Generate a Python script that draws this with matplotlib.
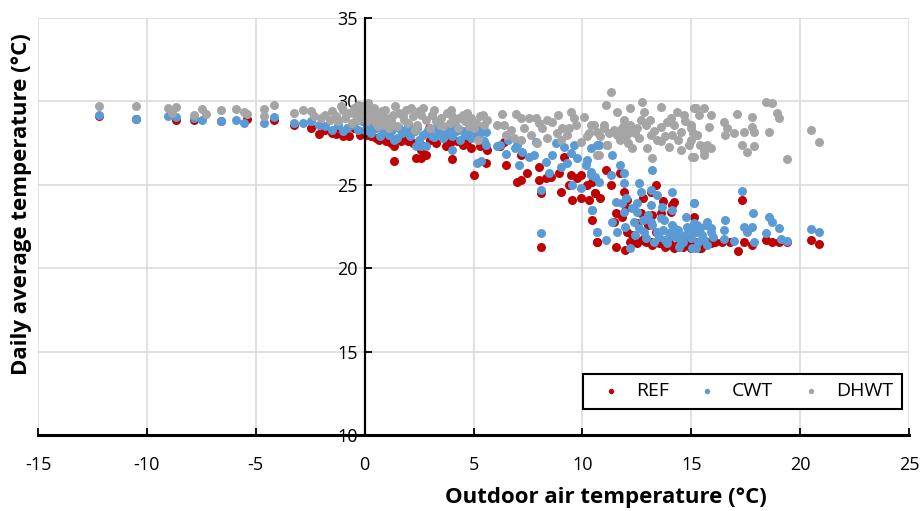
import matplotlib
matplotlib.use("Agg")
import matplotlib.pyplot as plt

# ---------------- data ----------------
ref_x = [-12.2, -10.5, -8.65, -7.84, -6.61, -5.39, -4.16, -3.26, -2.48, -2.11, -1.33, -0.73,
         -1.8, -1.5, -1.2, -1.0, -0.5, -0.2, 0.05, 0.3, 0.66, 0.8, 1.2, 1.35, 1.65, 1.35, 2.0,
         2.34, 2.57, 2.8, 2.57, 2.6, 2.94, 3.3, 3.64, 3.72, 4.03, 4.25, 4.5, 4.87, 5.02, 5.3, 5.56,
         0.5, 1.0, 1.8, 2.2, 3.0, 3.9, 4.7, 5.6, 6.2, 7.2,
         6.47, 6.4, 7.01, 7.16, 7.47, 8.0, 8.0, 8.31, 8.54, 9.0, 8.92, 9.15, 9.46, 9.38, 9.54,
         9.77, 9.92, 10.23, 10.3, 10.45, 10.6, 10.68, 8.08, 8.08, 9.92,
         10.45, 10.6, 10.83, 11.07, 11.3, 11.53, 11.75, 11.91, 12.06, 11.45, 11.83, 12.06, 12.21,
         10.68, 11.53, 11.98, 13.13, 13.36, 12.67, 13.21, 13.59, 14.2, 14.05, 12.75, 13.13, 13.59,
         14.05, 14.36, 14.66, 14.97, 15.28, 12.52,
         12.5, 12.9, 13.2, 13.5, 13.8, 14.0, 14.2, 14.4, 14.6, 14.8, 15.0, 15.2, 15.4, 15.6, 15.9,
         16.1, 13.0, 12.3, 13.4, 12.0, 12.8, 13.7, 14.1,
         17.34, 15.12, 15.28, 15.74, 15.43, 16.42, 16.8, 17.14, 17.42, 17.8, 18.41, 18.72, 19.02,
         19.41, 20.48, 20.86]
ref_y = [29.1, 28.95, 28.9, 28.9, 28.8, 28.95, 28.9, 28.6, 28.4, 28.05, 28.05, 27.95,
         28.3, 28.1, 28.3, 27.9, 28.4, 28.0, 28.0, 27.9, 27.7, 27.8, 27.5, 27.33, 27.6, 26.4, 27.6,
         26.6, 26.6, 26.8, 27.1, 27.4, 28.4, 27.5, 27.8, 27.3, 26.55, 27.6, 27.4, 27.2, 25.6, 27.3, 26.3,
         27.8, 27.6, 27.8, 27.5, 27.7, 27.5, 27.6, 27.1, 27.3, 26.8,
         26.19, 27.59, 25.19, 25.29, 25.69, 26.09, 25.29, 25.39, 25.49, 24.59, 25.69, 26.69, 25.59,
         24.99, 24.09, 25.39, 24.19, 24.99, 24.09, 22.89, 24.49, 21.59, 21.29, 24.49, 25.59,
         25.19, 24.49, 24.19, 25.89, 24.99, 23.29, 25.69, 24.59, 24.09, 22.79, 23.09, 22.19, 21.59,
         21.59, 21.29, 21.09, 24.59, 24.99, 23.29, 23.19, 23.29, 23.99, 23.39, 21.69, 21.59, 21.49,
         21.39, 21.29, 21.49, 21.19, 21.59, 22.69,
         21.5, 21.6, 21.4, 21.5, 21.3, 21.5, 21.2, 21.4, 21.3, 21.5, 21.3, 21.5, 21.2, 21.4, 21.5,
         21.6, 22.6, 22.0, 22.2, 23.6, 24.2, 24.0, 23.8,
         24.09, 23.09, 21.59, 21.59, 21.19, 21.59, 21.55, 21.05, 21.59, 21.39, 21.69, 21.55, 21.55,
         21.59, 21.69, 21.47]

cwt_x = [-12.2, -10.5, -9.03, -8.65, -7.84, -7.45, -6.61, -5.92, -5.54, -4.62, -4.16,
         -3.26, -2.85, -2.48, -2.11, -1.8, -1.5, -1.2, -1.0, -0.8, -0.5, -0.3, -0.1, 0.1, 0.3, 0.5,
         0.7, 0.9, 1.1, 1.3, 1.5, 1.7, 1.9, 2.1, 2.3, 2.5, 2.7, 2.9, 3.1, 3.4, 3.6, 3.8, 4.0, 4.2,
         4.4, 4.6, 4.8, 5.0, 5.3, 5.5,
         -0.6, 0.0, 0.4, 0.8, 1.2, 1.6, 2.0, 2.4, 2.8, 3.3, 3.7, 4.1, 4.5, 4.9, 5.2, 6.1, 6.6,
         1.35, 2.34, 2.57, 2.8, 3.18, 4.03, 5.17, 5.33, 5.56,
         5.56, 6.47, 7.01, 7.08, 7.24, 7.54, 7.77, 7.85, 8.31, 8.46, 8.62, 8.77, 9.0, 9.15, 9.31,
         9.46, 9.61, 9.77, 9.92, 10.15, 10.23, 10.38, 10.38, 10.45, 10.6, 10.68, 8.08, 8.08, 9.54,
         10.76, 6.2, 6.9,
         10.68, 11.14, 11.37, 11.75, 11.91, 13.21, 10.38, 10.76, 11.3, 11.91, 12.6, 12.67, 13.13,
         13.44, 14.13, 11.53, 11.91, 12.52, 13.13, 13.67, 14.13, 15.12, 10.45, 10.68, 11.07, 11.37,
         11.6, 11.98, 12.21, 12.36, 12.82, 13.13, 13.44, 13.74, 14.05, 14.2, 14.51, 14.74, 14.89,
         15.12, 15.28, 14.43, 13.9,
         12.4, 12.6, 12.9, 13.2, 13.5, 13.7, 13.8, 14.0, 14.1, 14.3, 14.4, 14.6, 14.7, 14.8, 15.0,
         15.1, 15.3, 15.4, 15.5, 15.6, 15.7, 15.9, 16.0, 15.2, 14.5, 13.9, 13.3, 12.8, 12.3, 12.0,
         11.8, 12.5, 13.0, 13.6,
         15.12, 17.34, 15.12, 15.74, 15.89, 15.28, 16.5, 16.57, 17.42, 17.57, 17.84, 17.8, 18.41,
         18.56, 18.72, 19.02, 16.5, 16.96, 17.88, 19.1, 19.41, 20.48, 20.86, 15.74, 15.05]
cwt_y = [29.2, 28.96, 29.12, 29.05, 29.0, 28.9, 28.85, 28.9, 28.73, 28.69, 29.05,
         28.7, 28.7, 28.8, 28.6, 28.5, 28.3, 28.6, 28.2, 28.4, 28.7, 28.3, 28.8, 28.5, 28.1, 28.4,
         27.9, 28.2, 28.0, 28.4, 27.8, 28.1, 28.3, 27.9, 28.2, 27.7, 28.0, 28.3, 27.9, 28.1, 27.8,
         28.3, 27.9, 28.2, 27.7, 28.0, 28.3, 27.9, 28.1, 27.6,
         28.6, 28.3, 28.6, 28.5, 28.2, 28.4, 28.5, 28.4, 28.1, 28.4, 28.0, 28.4, 28.2, 27.8, 28.3, 27.3, 27.7,
         27.7, 27.3, 27.35, 27.3, 27.85, 27.1, 26.3, 26.4, 27.4,
         28.18, 26.83, 27.39, 26.19, 26.99, 26.69, 26.79, 27.59, 26.39, 25.69, 26.79, 27.49, 26.09,
         27.29, 26.29, 26.89, 27.39, 26.59, 24.79, 26.19, 26.49, 27.19, 25.79, 23.49, 25.49, 22.19,
         24.69, 22.09, 24.99, 27.39, 27.4, 27.2,
         27.39, 27.39, 26.79, 26.19, 25.69, 25.89, 25.59, 25.19, 25.59, 25.09, 25.09, 24.59, 24.69,
         24.39, 24.59, 23.99, 23.39, 23.39, 23.79, 23.69, 23.49, 23.89, 23.49, 22.19, 21.69, 22.79,
         22.19, 22.49, 21.19, 22.79, 22.19, 22.79, 22.19, 22.89, 21.99, 22.39, 21.79, 23.09, 22.39,
         22.19, 22.59, 21.29, 21.69,
         22.0, 22.4, 21.8, 22.6, 21.9, 22.3, 21.7, 22.1, 22.6, 21.9, 22.3, 21.6, 22.0, 22.5, 21.8,
         22.2, 21.6, 22.4, 22.0, 21.7, 22.6, 22.2, 21.9, 21.2, 21.4, 21.5, 21.6, 22.9, 23.6, 24.2,
         23.9, 23.9, 23.2, 23.0,
         23.89, 24.65, 22.69, 22.79, 22.39, 22.19, 22.29, 22.89, 22.49, 22.19, 23.29, 22.49, 22.09,
         23.09, 22.79, 22.39, 21.75, 21.63, 21.59, 21.75, 21.63, 22.33, 22.19, 21.39, 21.19]

dhwt_x = [-12.2, -10.5, -9.03, -8.65, -8.83, -7.84, -7.45, -7.3, -6.61, -5.92, -5.54, -5.39,
          -4.62, -4.16, -4.62, -3.26, -2.85, -2.48, -2.34, -2.02,
          -1.8, -1.6, -1.5, -1.3, -1.2, -1.0, -0.9, -0.7, -0.6, -0.5, -0.4, -0.3, -0.2, -0.1, 0.0,
          0.1, 0.2, 0.3, 0.4, 0.5, 0.6, 0.7, 0.8, 0.9, 1.0, 1.2, 1.3, 1.5, 1.6, 1.8, 1.9, 2.0, 2.2,
          2.4, 2.5, 2.7, 2.8, 3.0, 3.1, 3.3, 3.5, 3.6, 3.8, 3.9, 4.0, 4.2, 4.3, 4.5, 4.6, 4.8, 4.9,
          5.1, 5.2, 5.3, 5.5, 5.6,
          -1.1, -0.3, 0.15, 0.45, 0.95, 1.4, 1.75, 2.15, 2.6, 3.2, 3.45, 3.95, 4.35, 4.7, 5.0, 5.45,
          0.6, 1.1, 2.3, 6.1, 7.3, 8.0, 8.9, 9.7, 10.2, 6.7, 7.9, 9.0,
          6.32, 6.93, 6.4, 7.16, 7.54, 7.85, 8.39, 8.62, 9.08, 9.46, 9.61, 10.07, 10.38, 10.68, 6.86,
          7.62, 8.16, 8.85, 9.38, 9.92, 10.68, 6.47, 7.16, 8.39, 9.31, 10.3,
          11.3, 11.07, 11.6, 12.21, 12.75, 12.82, 13.59, 14.05, 14.36, 14.66, 15.12, 10.53, 10.99,
          11.45, 11.91, 12.21, 12.67, 13.13, 13.59, 13.9, 14.13, 14.51, 14.97, 15.28, 12.98, 13.21,
          13.97, 14.51, 15.05, 10.76, 11.14, 11.75, 12.52, 13.44, 11.75, 11.98,
          11.6, 11.8, 12.0, 12.2, 12.4, 11.9, 12.1, 12.3, 12.6, 12.9, 13.1, 13.3, 13.6, 13.8, 14.2,
          14.4, 14.7, 14.9, 15.1, 15.4, 15.6, 15.9, 11.2, 11.0, 10.8,
          15.2, 15.58, 15.35, 15.89, 14.97, 15.81, 16.5, 16.66, 17.12, 17.8, 17.42, 17.88, 17.8,
          18.56, 18.41, 18.72, 18.95, 19.02, 20.48, 20.86, 19.41, 14.97, 15.28, 15.74, 15.12, 15.58,
          16.57, 16.96, 17.34, 17.57, 17.88]
dhwt_y = [29.7, 29.7, 29.6, 29.65, 29.3, 29.2, 29.56, 29.24, 29.48, 29.53, 29.38, 29.22,
          29.53, 29.78, 29.12, 29.3, 29.5, 29.4, 29.1, 29.0,
          29.2, 28.9, 29.4, 29.1, 28.8, 29.5, 29.0, 29.3, 28.7, 29.6, 29.1, 28.9, 29.4, 29.7, 29.2,
          28.8, 29.5, 29.0, 29.3, 28.7, 29.1, 28.9, 29.4, 28.6, 29.0, 28.8, 29.2, 28.5, 29.3, 28.9,
          29.5, 28.7, 29.1, 28.6, 29.4, 29.6, 28.9, 28.4, 29.2, 28.8, 29.0, 28.5, 29.3, 28.7, 29.1,
          28.9, 28.4, 29.2, 28.8, 28.5, 29.0, 28.7, 27.7, 29.1, 28.6, 28.9,
          29.7, 29.8, 29.9, 29.6, 29.5, 29.7, 29.1, 29.6, 29.2, 29.5, 28.6, 29.5, 29.0, 29.3, 28.4, 29.2,
          28.5, 28.4, 28.3, 28.6, 28.4, 28.7, 29.2, 28.6, 27.9, 28.3, 27.5, 27.7,
          29.23, 29.23, 28.59, 28.99, 28.99, 28.99, 28.89, 28.79, 28.39, 29.39, 28.99, 29.09, 28.59,
          28.19, 27.79, 27.99, 28.39, 28.09, 28.39, 27.59, 26.79, 27.99, 27.69, 27.79, 27.99, 28.09,
          30.58, 29.78, 29.38, 29.58, 29.98, 29.38, 29.68, 28.99, 29.38, 29.18, 29.58, 28.59, 28.39,
          28.29, 28.59, 28.19, 28.89, 27.99, 28.49, 28.79, 27.99, 28.19, 28.39, 27.99, 27.19, 26.59,
          27.29, 27.09, 26.69, 26.79, 27.39, 27.99, 28.39, 27.69, 27.69, 28.29,
          28.0, 28.4, 27.9, 28.6, 28.1, 28.9, 27.5, 27.2, 27.8, 28.6, 28.9, 28.2, 27.6, 27.9, 28.6,
          27.7, 28.8, 27.4, 28.1, 27.4, 27.0, 27.2, 28.1, 28.6, 27.9,
          29.58, 29.58, 29.18, 29.18, 28.59, 28.49, 28.79, 28.39, 29.23, 29.09, 28.19, 28.19, 28.49,
          28.19, 29.98, 29.88, 29.28, 28.99, 28.29, 27.59, 26.55, 27.69, 27.99, 27.39, 26.69, 26.79,
          27.99, 28.09, 27.39, 26.99, 27.35]

series_names = ["REF", "CWT", "DHWT"]
series_colors = ["#C00000", "#5B9BD5", "#A5A5A5"]
x_ticks = [-15, -10, -5, 0, 5, 10, 15, 20, 25]
y_ticks = [10, 15, 20, 25, 30, 35]

# ---------------- figure ----------------
plt.rcParams['font.family'] = ['Open Sans', 'DejaVu Sans']
plt.rcParams['axes.unicode_minus'] = False
fig = plt.figure(figsize=(9.21, 5.11), dpi=100)
ax = fig.add_axes([38/921, 1-435/511, 871/921, 417/511])

for xs, ys, name, col in zip([ref_x, cwt_x, dhwt_x], [ref_y, cwt_y, dhwt_y],
                             series_names, series_colors):
    ax.scatter(xs, ys, s=42, color=col, linewidths=0, label=name, zorder=3)

ax.set_xlim(-15, 25)
ax.set_ylim(10, 35)
ax.set_xticks(x_ticks)
ax.set_yticks(y_ticks)
ax.grid(True, color="#D9D9D9", linewidth=1.1, zorder=0)
ax.set_axisbelow(True)

for s in ["top", "right"]:
    ax.spines[s].set_visible(False)
ax.spines["left"].set_position(("data", 0))
ax.spines["left"].set_linewidth(1.6)
ax.spines["bottom"].set_linewidth(2.2)
ax.spines["left"].set_zorder(4)
ax.spines["bottom"].set_zorder(4)

ax.tick_params(axis="x", direction="in", length=5, width=1.3, pad=15, labelsize=13)
ax.tick_params(axis="y", direction="in", length=5, width=1.3, pad=5, labelsize=13)

fig.text(606/921, 1-497/511, "Outdoor air temperature (°C)", ha="center", va="center",
         fontsize=16, fontweight="bold")
fig.text(22/921, 1-204/511, "Daily average temperature (°C)", ha="center", va="center",
         rotation=90, fontsize=16, fontweight="bold")

leg = ax.legend(loc="lower left", ncol=3, mode="expand",
                bbox_to_anchor=((583-38)/871, (435-409)/417, (902-583)/871, (409-364)/417),
                fontsize=14, frameon=True, fancybox=False, framealpha=1,
                edgecolor="black", markerscale=0.6, handletextpad=0.3,
                borderaxespad=0, borderpad=0.45)
leg.get_frame().set_linewidth(1.5)
leg.set_zorder(5)

fig.savefig("out.png", dpi=100)
